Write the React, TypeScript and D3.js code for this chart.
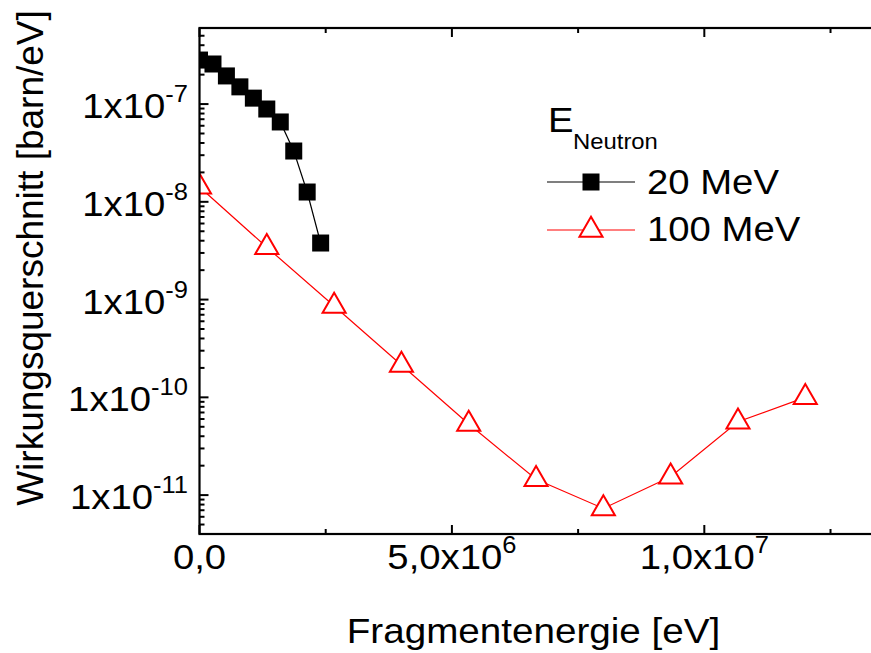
import React from 'react';
import * as d3 from 'd3';

const xMajorTicks = [0, 5e6, 1e7];
const xTickBase = ['0,0', '5,0x10', '1,0x10'];
const xTickExp = ['', '6', '7'];
const xMinorTicks = [2.5e6, 7.5e6, 1.25e7];
const yMajorTicks = [1e-7, 1e-8, 1e-9, 1e-10, 1e-11];
const yTickExp = ['-7', '-8', '-9', '-10', '-11'];

const energy20 = [0, 0.267e6, 0.533e6, 0.8e6, 1.067e6, 1.333e6, 1.6e6, 1.867e6, 2.133e6, 2.4e6];
const sigma20 = [2.82e-7, 2.57e-7, 1.94e-7, 1.5e-7, 1.15e-7, 8.9e-8, 6.56e-8, 3.31e-8, 1.26e-8, 3.79e-9];
const energy100 = [0, 1.333e6, 2.667e6, 4e6, 5.333e6, 6.667e6, 8e6, 9.333e6, 10.667e6, 12e6];
const sigma100 = [1.42e-8, 3.43e-9, 8.6e-10, 2.14e-10, 5.34e-11, 1.45e-11, 7.3e-12, 1.54e-11, 5.63e-11, 1.0e-10];

const legendTitle = 'E';
const legendSub = 'Neutron';
const seriesNames = ['20 MeV', '100 MeV'];
const xTitle = 'Fragmentenergie [eV]';
const yTitle = 'Wirkungsquerschnitt [barn/eV]';

const FONT = '"Liberation Sans", Arial, sans-serif';
const SX = 1.11;

export default function App() {
  const L = 199.5, R = 881, T = 28, B = 534;
  const x = d3.scaleLinear().domain([0, 1.35e7]).range([L, R]);
  const y = d3.scaleLog().domain([4e-12, 6e-7]).range([B, T]);

  const yMinor: number[] = [];
  for (let e = -12; e <= -7; e++) {
    for (let m = 2; m <= 9; m++) {
      const v = m * Math.pow(10, e);
      if (v >= 4e-12 && v <= 6e-7) yMinor.push(v);
    }
  }

  const line = d3.line<[number, number]>().x(d => x(d[0])).y(d => y(d[1]));
  const d20 = energy20.map((e, i) => [e, sigma20[i]] as [number, number]);
  const d100 = energy100.map((e, i) => [e, sigma100[i]] as [number, number]);

  const sq = 17;
  const triH = 20;
  const triPath = (cx: number, cy: number) => {
    const h = triH;
    const half = h / Math.sqrt(3);
    return `M${cx},${cy - (2 * h) / 3}L${cx + half},${cy + h / 3}L${cx - half},${cy + h / 3}Z`;
  };

  const majLen = 9, minLen = 5;

  return (
    <svg width={871} height={653} style={{ position: 'absolute', left: 0, top: 0, background: '#fff' }}
      fontFamily={FONT}>
      <defs>
        <clipPath id="plotclip">
          <rect x={L} y={T} width={R - L} height={B - T} />
        </clipPath>
      </defs>
      <rect x={0} y={0} width={871} height={653} fill="#fff" />

      {/* data */}
      <g clipPath="url(#plotclip)">
        <path d={line(d100) || ''} fill="none" stroke="#ff0000" strokeWidth={1.2} />
        {d100.map((d, i) => (
          <path key={'t' + i} d={triPath(x(d[0]), y(d[1]))} fill="#fff" stroke="#ff0000" strokeWidth={2} />
        ))}
        <path d={line(d20) || ''} fill="none" stroke="#000" strokeWidth={1.2} />
        {d20.map((d, i) => (
          <rect key={'s' + i} x={x(d[0]) - sq / 2} y={y(d[1]) - sq / 2} width={sq} height={sq} fill="#000" />
        ))}
      </g>

      {/* frame */}
      <rect x={L} y={T} width={R - L} height={B - T} fill="none" stroke="#000" strokeWidth={2.2} />

      {/* x ticks */}
      {xMajorTicks.map((v, i) => (
        <g key={'xm' + i}>
          <line x1={x(v)} x2={x(v)} y1={B} y2={B - majLen} stroke="#000" strokeWidth={2} />
          <line x1={x(v)} x2={x(v)} y1={T} y2={T + majLen} stroke="#000" strokeWidth={2} />
        </g>
      ))}
      {xMinorTicks.map((v, i) => (
        <g key={'xn' + i}>
          <line x1={x(v)} x2={x(v)} y1={B} y2={B - minLen} stroke="#000" strokeWidth={2} />
          <line x1={x(v)} x2={x(v)} y1={T} y2={T + minLen} stroke="#000" strokeWidth={2} />
        </g>
      ))}
      {/* y ticks */}
      {yMajorTicks.map((v, i) => (
        <g key={'ym' + i}>
          <line x1={L} x2={L + majLen} y1={y(v)} y2={y(v)} stroke="#000" strokeWidth={2} />
          <line x1={R} x2={R - majLen} y1={y(v)} y2={y(v)} stroke="#000" strokeWidth={2} />
        </g>
      ))}
      {yMinor.map((v, i) => (
        <g key={'yn' + i}>
          <line x1={L} x2={L + minLen} y1={y(v)} y2={y(v)} stroke="#000" strokeWidth={2} />
          <line x1={R} x2={R - minLen} y1={y(v)} y2={y(v)} stroke="#000" strokeWidth={2} />
        </g>
      ))}

      {/* x tick labels */}
      {xMajorTicks.map((v, i) => (
        <text key={'xl' + i} transform={`translate(${x(v)},569) scale(${SX},1)`} textAnchor="middle"
          fontSize={34.5} fill="#000">
          {xTickBase[i]}
          {xTickExp[i] ? <tspan fontSize={23} dy={-16}>{xTickExp[i]}</tspan> : null}
        </text>
      ))}

      {/* y tick labels */}
      {yMajorTicks.map((v, i) => (
        <text key={'yl' + i} transform={`translate(188,${y(v) + 14}) scale(${SX},1)`} textAnchor="end"
          fontSize={34.5} fill="#000">
          1x10<tspan fontSize={23} dy={-16}>{yTickExp[i]}</tspan>
        </text>
      ))}

      {/* axis titles */}
      <text transform={`translate(533.5,643) scale(1.12,1)`} textAnchor="middle" fontSize={34.5} fill="#000">
        {xTitle}
      </text>
      <text transform={`translate(43,258) rotate(-90)`} textAnchor="middle" fontSize={37} fill="#000">
        {yTitle}
      </text>

      {/* legend */}
      <text transform={`translate(548,132) scale(${SX},1)`} fontSize={34.5} fill="#000">{legendTitle}</text>
      <text transform={`translate(573,149) scale(${SX},1)`} fontSize={21.5} fill="#000">{legendSub}</text>

      <line x1={547} x2={635} y1={182} y2={182} stroke="#000" strokeWidth={1.2} />
      <rect x={591 - sq / 2} y={182 - sq / 2} width={sq} height={sq} fill="#000" />
      <text transform={`translate(647,194) scale(${SX},1)`} fontSize={34.5} fill="#000">{seriesNames[0]}</text>

      <line x1={547} x2={635} y1={230} y2={230} stroke="#ff0000" strokeWidth={1.2} />
      <path d={triPath(591, 230)} fill="#fff" stroke="#ff0000" strokeWidth={2} />
      <text transform={`translate(647,241) scale(${SX},1)`} fontSize={34.5} fill="#000">{seriesNames[1]}</text>
    </svg>
  );
}
